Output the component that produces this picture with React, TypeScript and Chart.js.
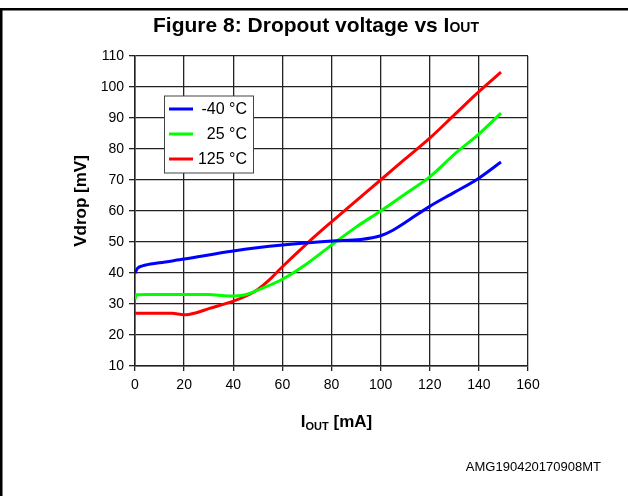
import React, { useEffect, useRef } from "react";
import { Chart, registerables } from "chart.js";

Chart.register(...registerables);

const TITLE_MAIN = "Figure 8: Dropout voltage vs I";
const TITLE_SUB = "OUT";
const X_TITLE_MAIN = "I";
const X_TITLE_SUB = "OUT";
const X_TITLE_REST = " [mA]";
const Y_TITLE = "Vdrop [mV]";
const FOOTER = "AMG190420170908MT";

const X_MIN = 0;
const X_MAX = 160;
const X_STEP = 20;
const Y_MIN = 10;
const Y_MAX = 110;
const Y_STEP = 10;

const seriesLabels = ["-40 °C", " 25 °C", "125 °C"];
const seriesColors = ["#0000ff", "#00ff00", "#ff0000"];

const blueX = [0, 1, 3, 10, 20, 40, 60, 80, 92, 100, 105, 110, 120, 130, 140, 149];
const blueY = [39.9, 41.5, 42.3, 43.3, 44.5, 47.1, 49.0, 50.3, 50.8, 52.0, 53.8, 56.3, 61.5, 66.0, 70.6, 75.8];

const greenX = [0, 0.6, 5, 20, 30, 38, 45, 50, 60, 70, 80, 90, 100, 110, 120, 131, 140, 149];
const greenY = [31.6, 33.0, 33.1, 33.1, 33.1, 32.6, 33.0, 34.5, 38.0, 43.0, 49.0, 54.8, 60.0, 65.5, 71.0, 79.0, 84.8, 91.6];

const redX = [0, 10, 15, 20, 25, 30, 40, 45, 50, 55, 60, 70, 80, 90, 100, 110, 120, 130, 140, 149];
const redY = [27.0, 27.0, 27.0, 26.5, 27.2, 28.5, 30.9, 32.5, 34.7, 38.0, 42.0, 49.5, 56.5, 63.3, 70.0, 76.8, 83.5, 91.0, 98.5, 104.8];

const FONT = '"Liberation Sans", Arial, sans-serif';

const toPoints = (xs: number[], ys: number[]) => xs.map((x, i) => ({ x, y: ys[i] }));

const decorPlugin = {
  id: "decor",
  beforeDraw(chart: any) {
    const ctx = chart.ctx;
    ctx.save();
    ctx.fillStyle = "#ffffff";
    ctx.fillRect(0, 0, chart.width, chart.height);
    ctx.restore();
  },
  afterDraw(chart: any) {
    const ctx = chart.ctx;
    const area = chart.chartArea;
    ctx.save();
    // frame lines (top and left)
    ctx.fillStyle = "#000";
    ctx.fillRect(0, 8, chart.width, 2.5);
    ctx.fillRect(0, 8, 2.5, chart.height - 8);

    // title
    ctx.fillStyle = "#000";
    ctx.textBaseline = "alphabetic";
    ctx.textAlign = "left";
    ctx.font = `bold 21px ${FONT}`;
    const w1 = ctx.measureText(TITLE_MAIN).width;
    ctx.font = `bold 14px ${FONT}`;
    const w2 = ctx.measureText(TITLE_SUB).width;
    const tx = 316 - (w1 + w2) / 2;
    ctx.font = `bold 21px ${FONT}`;
    ctx.fillText(TITLE_MAIN, tx, 32);
    ctx.font = `bold 14px ${FONT}`;
    ctx.fillText(TITLE_SUB, tx + w1, 32);

    // x title
    ctx.font = `bold 17px ${FONT}`;
    const a = ctx.measureText(X_TITLE_MAIN).width;
    const c = ctx.measureText(X_TITLE_REST).width;
    ctx.font = `bold 11px ${FONT}`;
    const b = ctx.measureText(X_TITLE_SUB).width;
    const xx = (area.left + area.right) / 2 + 5 - (a + b + c) / 2;
    const xy = 427;
    ctx.font = `bold 17px ${FONT}`;
    ctx.fillText(X_TITLE_MAIN, xx, xy);
    ctx.font = `bold 11px ${FONT}`;
    ctx.fillText(X_TITLE_SUB, xx + a, xy + 3);
    ctx.font = `bold 17px ${FONT}`;
    ctx.fillText(X_TITLE_REST, xx + a + b, xy);

    // y title
    ctx.save();
    ctx.translate(86, 201);
    ctx.rotate(-Math.PI / 2);
    ctx.textAlign = "center";
    ctx.font = `bold 17px ${FONT}`;
    ctx.fillText(Y_TITLE, 0, 0);
    ctx.restore();

    // footer
    ctx.textAlign = "right";
    ctx.font = `13px ${FONT}`;
    ctx.fillText(FOOTER, 601, 471);

    // legend
    const lx = 164.5, ly = 96, lw = 89, lh = 77;
    ctx.fillStyle = "#fff";
    ctx.fillRect(lx, ly, lw, lh);
    ctx.strokeStyle = "#444";
    ctx.lineWidth = 1;
    ctx.strokeRect(lx, ly, lw, lh);
    const rowY = [109, 134, 159];
    ctx.font = `16px ${FONT}`;
    ctx.textAlign = "right";
    ctx.textBaseline = "middle";
    for (let i = 0; i < seriesLabels.length; i++) {
      ctx.strokeStyle = seriesColors[i];
      ctx.lineWidth = 3;
      ctx.beginPath();
      ctx.moveTo(169, rowY[i]);
      ctx.lineTo(193, rowY[i]);
      ctx.stroke();
      ctx.fillStyle = "#000";
      ctx.fillText(seriesLabels[i], 247, rowY[i] + 1);
    }
    ctx.restore();
  },
};

export default function App() {
  const ref = useRef<HTMLCanvasElement | null>(null);
  useEffect(() => {
    document.body.style.margin = "0";
    if (!ref.current) return;
    const chart = new Chart(ref.current, {
      type: "line",
      data: {
        datasets: [
          { label: seriesLabels[0], data: toPoints(blueX, blueY), borderColor: seriesColors[0] },
          { label: seriesLabels[1], data: toPoints(greenX, greenY), borderColor: seriesColors[1] },
          { label: seriesLabels[2], data: toPoints(redX, redY), borderColor: seriesColors[2] },
        ].map((d) => ({
          ...d,
          borderWidth: 3,
          pointRadius: 0,
          fill: false,
          cubicInterpolationMode: "monotone" as const,
          backgroundColor: d.borderColor,
        })),
      },
      options: {
        responsive: false,
        animation: false,
        layout: { padding: { left: 0, top: 56, right: 100, bottom: 0 } },
        plugins: { legend: { display: false }, title: { display: false }, tooltip: { enabled: false } },
        scales: {
          x: {
            type: "linear",
            min: X_MIN,
            max: X_MAX,
            afterFit: (s: any) => { s.height = 130; },
            ticks: { stepSize: X_STEP, color: "#000", font: { size: 14, family: FONT }, padding: 6, maxRotation: 0 },
            grid: { color: "#222", lineWidth: 1.3, tickLength: 5, drawTicks: true },
            border: { display: true, color: "#222", width: 1.5 },
          },
          y: {
            type: "linear",
            min: Y_MIN,
            max: Y_MAX,
            afterFit: (s: any) => { s.width = 135; },
            ticks: { stepSize: Y_STEP, color: "#000", font: { size: 14, family: FONT }, padding: 5 },
            grid: { color: "#222", lineWidth: 1.3, tickLength: 6, drawTicks: true },
            border: { display: true, color: "#222", width: 1.5 },
          },
        },
      },
      plugins: [decorPlugin],
    });
    return () => chart.destroy();
  }, []);
  return (
    <div style={{ position: "absolute", left: 0, top: 0, width: 628, height: 496 }}>
      <canvas ref={ref} width={628} height={496} style={{ width: 628, height: 496, display: "block" }} />
    </div>
  );
}
